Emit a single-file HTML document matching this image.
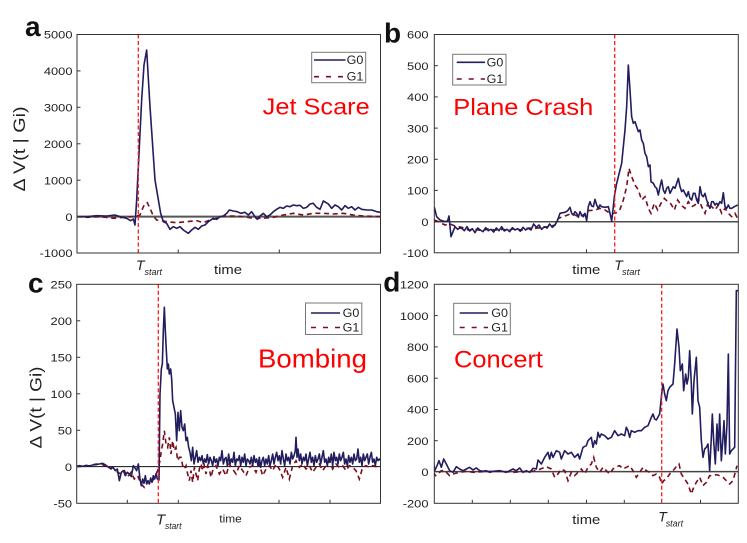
<!DOCTYPE html>
<html><head><meta charset="utf-8"><style>
html,body{margin:0;padding:0;background:#fff;}
svg{display:block;}
text{font-family:"Liberation Sans",Arial,sans-serif;}
.tk{font-size:11.5px;fill:#222;}
.g0{fill:none;stroke:#221d5e;stroke-width:4.8;stroke-linejoin:round;}
.g1{fill:none;stroke:#7a0c1c;stroke-width:4.8;stroke-dasharray:15,11;}
.ts{stroke:#ff1a1a;stroke-width:1.3;stroke-dasharray:4,2.5;}
.ax{fill:none;stroke:#333;stroke-width:1;}
.tt{fill:#f00;}
.lb{font-weight:bold;font-size:28px;fill:#111;}
</style></head><body>
<svg width="747" height="543" viewBox="0 0 747 543" xmlns="http://www.w3.org/2000/svg">
<defs>
<clipPath id="ca"><rect x="77" y="34.5" width="303.5" height="218.5"/></clipPath>
<clipPath id="cb"><rect x="434.3" y="34.5" width="304" height="218.3"/></clipPath>
<clipPath id="cc"><rect x="76.7" y="284.3" width="303.8" height="219"/></clipPath>
<clipPath id="cd"><rect x="434.3" y="284.3" width="304" height="219"/></clipPath>
</defs>
<rect width="747" height="543" fill="#fff"/>

<!-- ============ PANEL A ============ -->
<line x1="77" y1="216.6" x2="380.5" y2="216.6" stroke="#555" stroke-width="2"/>
<g clip-path="url(#ca)"><g transform="scale(0.33333)">
<polyline class="g1" points="230,650 260,652 300,650 340,655 370,652 395,650 410,648 420,645 428,625 435,610 442,608 450,625 460,648 470,660 485,662 500,665 530,668 560,665 590,662 610,668 630,660 650,655 670,648 700,648 730,650 760,655 790,655 820,652 850,645 880,640 910,645 940,640 970,640 1000,642 1030,640 1060,645 1090,648 1140,650"/>
<polyline class="g0" points="230,650 260,650 290,647 320,648 345,645 360,650 380,655 392,662 400,657 405,675 410,600 415,500 425,300 432,195 440,150 450,320 465,540 482,640 490,665 500,670 510,688 520,680 530,685 540,680 550,690 565,700 575,690 585,682 595,688 605,678 615,675 625,665 640,655 650,658 660,650 670,648 680,640 688,630 700,633 712,635 722,640 735,637 745,645 755,635 765,650 772,658 780,648 790,640 800,650 810,645 820,635 830,628 840,622 850,625 860,618 870,620 880,615 890,617 900,616 910,625 920,622 930,612 940,610 950,622 960,628 970,603 985,612 995,625 1005,615 1015,620 1025,630 1035,617 1045,625 1055,620 1065,630 1075,622 1085,628 1100,630 1115,630 1130,635 1140,637"/>
</g></g>
<line class="ts" x1="138.3" y1="34.5" x2="138.3" y2="253"/>
<rect class="ax" x="77" y="34.5" width="303.5" height="218.5"/>
<g stroke="#333" stroke-width="1">
<line x1="77" y1="70.9" x2="80.5" y2="70.9"/><line x1="77" y1="107.3" x2="80.5" y2="107.3"/><line x1="77" y1="143.8" x2="80.5" y2="143.8"/><line x1="77" y1="180.2" x2="80.5" y2="180.2"/><line x1="77" y1="216.6" x2="80.5" y2="216.6"/>
<line x1="178.2" y1="253" x2="178.2" y2="249.5"/><line x1="279.3" y1="253" x2="279.3" y2="249.5"/>
</g>
<g class="tk" text-anchor="end">
<text transform="translate(72.5,38.7) scale(1.12,1)">5000</text>
<text transform="translate(72.5,75.1) scale(1.12,1)">4000</text>
<text transform="translate(72.5,111.5) scale(1.12,1)">3000</text>
<text transform="translate(72.5,148) scale(1.12,1)">2000</text>
<text transform="translate(72.5,184.4) scale(1.12,1)">1000</text>
<text transform="translate(72.5,220.8) scale(1.12,1)">0</text>
<text transform="translate(72.5,257.2) scale(1.12,1)">-1000</text>
</g>
<text class="lb" x="25" y="36">a</text>
<text transform="translate(25,149) rotate(-90)" text-anchor="middle" font-size="17" fill="#222" textLength="85" lengthAdjust="spacingAndGlyphs">Δ V(t | Gi)</text>
<text class="tt" x="262.7" y="114.3" font-size="23" textLength="107" lengthAdjust="spacingAndGlyphs">Jet Scare</text>
<rect x="311.7" y="52.3" width="54" height="30.4" fill="#fff" stroke="#777" stroke-width="1"/>
<line x1="314" y1="60" x2="345.5" y2="60" stroke="#221d5e" stroke-width="1.6"/>
<line x1="314" y1="76.7" x2="345.5" y2="76.7" stroke="#7a0c1c" stroke-width="1.6" stroke-dasharray="5,7"/>
<text x="346.7" y="64" font-size="11.5" fill="#222" textLength="16.7" lengthAdjust="spacingAndGlyphs">G0</text>
<text x="346.7" y="80.7" font-size="11.5" fill="#222" textLength="16.7" lengthAdjust="spacingAndGlyphs">G1</text>
<text x="214" y="274" font-size="13" fill="#222" textLength="28" lengthAdjust="spacingAndGlyphs">time</text>
<text x="136" y="270" font-size="14" font-style="italic" fill="#222">T</text>
<text x="144.5" y="275" font-size="9" font-style="italic" fill="#222" textLength="17.5" lengthAdjust="spacingAndGlyphs">start</text>

<!-- ============ PANEL B ============ -->
<line x1="434.3" y1="221.8" x2="738.3" y2="221.8" stroke="#111" stroke-width="1.2"/>
<g clip-path="url(#cb)"><g transform="translate(375,0) scale(0.33333)">
<polyline class="g1" points="178,660 190,665 210,675 225,672 240,678 260,682 280,690 300,688 320,692 340,687 360,690 380,688 400,690 420,686 440,690 460,684 480,685 500,683 520,680 540,675 550,655 570,648 590,640 610,650 625,645 640,632 660,630 675,625 690,630 705,640 718,640 725,638 735,628 745,600 755,560 762,505 770,530 780,555 790,570 800,600 810,590 820,625 828,640 838,610 848,630 858,610 868,595 878,605 888,612 898,630 908,600 918,615 930,625 940,605 950,620 960,615 970,595 980,620 990,640 1000,605 1010,620 1020,630 1030,615 1040,640 1050,625 1060,640 1070,650 1080,640 1090,660"/>
<polyline class="g0" points="178,622 185,650 195,660 210,665 218,662 222,648 228,710 234,695 240,680 248,688 254,684 260,685 268,692 276,680 284,693 292,686 300,698 308,684 316,690 324,695 332,683 340,692 348,688 356,696 364,684 372,692 380,680 388,693 396,688 404,695 412,683 420,690 428,686 436,694 444,682 452,690 460,685 468,690 476,672 484,682 492,675 500,688 508,680 516,684 524,672 532,682 540,675 548,660 555,640 563,638 570,637 578,632 585,622 590,640 595,645 600,635 605,640 610,652 615,635 620,645 625,650 630,640 635,662 640,620 645,605 650,618 655,620 660,598 665,615 670,625 675,615 680,620 690,622 700,620 705,640 710,663 715,620 718,590 724,555 730,530 735,510 740,490 745,440 750,390 755,320 760,195 765,270 770,350 775,370 780,365 785,380 790,395 795,390 800,420 805,430 810,460 815,470 820,500 825,495 828,545 835,550 840,560 845,565 850,585 855,560 860,540 865,570 870,580 875,565 880,560 885,580 890,570 895,560 900,565 905,550 910,535 915,560 920,575 925,570 930,580 935,590 940,575 945,595 950,600 955,580 960,580 965,600 970,610 975,560 980,585 985,590 990,580 995,600 1000,615 1005,625 1010,605 1015,605 1020,615 1025,610 1030,615 1035,605 1040,610 1045,578 1050,620 1055,625 1060,615 1065,625 1070,625 1078,620 1088,615"/>
</g></g>
<line class="ts" x1="614.7" y1="34.5" x2="614.7" y2="252.8"/>
<rect class="ax" x="434.3" y="34.5" width="304" height="218.3"/>
<g stroke="#333" stroke-width="1">
<line x1="434.3" y1="65.7" x2="437.8" y2="65.7"/><line x1="434.3" y1="96.9" x2="437.8" y2="96.9"/><line x1="434.3" y1="128.1" x2="437.8" y2="128.1"/><line x1="434.3" y1="159.3" x2="437.8" y2="159.3"/><line x1="434.3" y1="190.4" x2="437.8" y2="190.4"/>
<line x1="510.3" y1="252.8" x2="510.3" y2="249.3"/><line x1="586.5" y1="252.8" x2="586.5" y2="249.3"/><line x1="662.3" y1="252.8" x2="662.3" y2="249.3"/>
</g>
<g class="tk" text-anchor="end">
<text transform="translate(428.5,38.7) scale(1.12,1)">600</text>
<text transform="translate(428.5,69.9) scale(1.12,1)">500</text>
<text transform="translate(428.5,101.1) scale(1.12,1)">400</text>
<text transform="translate(428.5,132.3) scale(1.12,1)">300</text>
<text transform="translate(428.5,163.5) scale(1.12,1)">200</text>
<text transform="translate(428.5,194.6) scale(1.12,1)">100</text>
<text transform="translate(428.5,225.8) scale(1.12,1)">0</text>
<text transform="translate(428.5,257) scale(1.12,1)">-100</text>
</g>
<text class="lb" x="384" y="42.5">b</text>
<text class="tt" x="453.3" y="115" font-size="23.5" textLength="140" lengthAdjust="spacingAndGlyphs">Plane Crash</text>
<rect x="452.7" y="54.3" width="53.3" height="30.7" fill="#fff" stroke="#777" stroke-width="1"/>
<line x1="456.7" y1="62.3" x2="485" y2="62.3" stroke="#221d5e" stroke-width="1.6"/>
<line x1="456.7" y1="79" x2="485" y2="79" stroke="#7a0c1c" stroke-width="1.6" stroke-dasharray="5,7"/>
<text x="486.7" y="66.3" font-size="11.5" fill="#222" textLength="16.7" lengthAdjust="spacingAndGlyphs">G0</text>
<text x="486.7" y="83" font-size="11.5" fill="#222" textLength="16.7" lengthAdjust="spacingAndGlyphs">G1</text>
<text x="572.3" y="274" font-size="13" fill="#222" textLength="28" lengthAdjust="spacingAndGlyphs">time</text>
<text x="614.3" y="270" font-size="14" font-style="italic" fill="#222">T</text>
<text x="622" y="275" font-size="9" font-style="italic" fill="#222" textLength="18" lengthAdjust="spacingAndGlyphs">start</text>

<!-- ============ PANEL C ============ -->
<line x1="76.7" y1="466.6" x2="380.5" y2="466.6" stroke="#111" stroke-width="1"/>
<g clip-path="url(#cc)"><g transform="translate(76,284) scale(0.33333)">
<polyline class="g1" points="0,547 20,548 40,545 60,540 80,542 95,550 105,548 115,555 125,565 135,570 145,560 155,578 165,565 175,585 185,575 195,600 205,610 215,595 225,600 235,580 245,560 252,530 256,500 260,480 265,440 270,480 275,490 280,460 285,510 290,470 295,500 300,490 305,530 310,520 315,520 320,545 325,555 330,545 335,570 340,590 345,560 350,595 355,550 360,570 365,590 370,555 375,540 380,560 385,545 390,570 395,545 400,555 405,580 410,560 420,545 430,570 440,555 450,575 460,540 470,555 480,570 490,545 500,560 510,575 520,550 530,545 540,565 550,540 560,575 570,555 580,545 590,560 600,540 610,555 620,580 630,550 640,585 650,545 660,530 670,550 680,540 690,555 700,545 710,565 720,550 730,540 740,560 750,545 760,530 770,555 780,540 790,550 800,545 810,560 820,545 830,550 840,560 850,585 860,550 870,545 880,550 890,545 900,548 918,550"/>
<polyline class="g0" points="0,547 10,545 20,547 30,544 40,546 50,543 60,542 70,540 80,538 90,544 98,550 105,555 110,548 118,560 124,555 130,590 136,565 142,560 148,575 154,565 160,570 166,578 172,545 177,552 182,560 187,540 192,585 196,605 200,585 204,598 208,575 212,600 216,590 220,600 224,582 228,595 232,575 236,585 240,570 244,585 249,588 252,330 256,255 259,240 262,140 265,70 268,140 271,200 274,255 277,240 280,270 284,255 287,285 290,350 294,370 298,390 302,470 306,385 310,440 314,380 318,430 322,440 326,420 330,470 334,460 338,490 342,505 346,530 350,490 354,540 358,520 362,500 366,535 370,520 374,530 378,515 382,540 386,525 390,535 394,512 398,540 402,520 406,530 410,545 414,518 418,535 422,525 426,545 430,520 434,530 438,500 442,540 446,525 450,520 454,545 458,510 462,540 466,525 470,535 474,505 478,545 482,525 486,530 490,515 494,545 498,520 502,535 506,510 510,545 514,525 518,530 522,540 526,520 530,545 534,515 538,535 542,525 546,545 550,520 554,550 558,530 562,520 566,545 570,525 574,540 578,515 582,545 586,530 590,510 594,540 598,520 602,505 606,530 610,515 614,540 618,500 622,525 626,545 630,510 634,530 638,520 642,540 646,505 650,525 654,515 658,500 660,460 663,520 666,495 670,530 674,510 678,540 682,520 686,530 690,510 694,545 698,525 702,505 706,535 710,520 714,545 718,515 722,535 726,525 730,510 734,540 738,520 742,500 746,535 750,525 754,545 758,520 762,535 766,510 770,545 774,505 778,530 782,520 786,540 790,510 794,530 798,520 802,505 806,540 810,525 814,545 818,515 822,535 826,520 830,540 834,510 838,530 842,525 846,495 850,535 854,520 858,545 862,510 866,530 870,520 874,510 878,540 882,520 886,505 890,535 894,525 898,545 902,520 906,530 910,525 918,535"/>
</g></g>
<line class="ts" x1="158.3" y1="284.3" x2="158.3" y2="503.3"/>
<rect class="ax" x="76.7" y="284.3" width="303.8" height="219"/>
<g stroke="#333" stroke-width="1">
<line x1="76.7" y1="320.8" x2="80.2" y2="320.8"/><line x1="76.7" y1="357.3" x2="80.2" y2="357.3"/><line x1="76.7" y1="393.8" x2="80.2" y2="393.8"/><line x1="76.7" y1="430.3" x2="80.2" y2="430.3"/><line x1="76.7" y1="466.8" x2="80.2" y2="466.8"/>
<line x1="127.3" y1="503.3" x2="127.3" y2="499.8"/><line x1="178.3" y1="503.3" x2="178.3" y2="499.8"/><line x1="279" y1="503.3" x2="279" y2="499.8"/><line x1="330" y1="503.3" x2="330" y2="499.8"/>
</g>
<g class="tk" text-anchor="end">
<text transform="translate(72,288.5) scale(1.12,1)">250</text>
<text transform="translate(72,325) scale(1.12,1)">200</text>
<text transform="translate(72,361.5) scale(1.12,1)">150</text>
<text transform="translate(72,398) scale(1.12,1)">100</text>
<text transform="translate(72,434.5) scale(1.12,1)">50</text>
<text transform="translate(72,471) scale(1.12,1)">0</text>
<text transform="translate(72,507.5) scale(1.12,1)">-50</text>
</g>
<text class="lb" x="28" y="292.7">c</text>
<text transform="translate(41.5,407.5) rotate(-90)" text-anchor="middle" font-size="17" fill="#222" textLength="82" lengthAdjust="spacingAndGlyphs">Δ V(t | Gi)</text>
<text class="tt" x="258" y="367.3" font-size="26" textLength="109" lengthAdjust="spacingAndGlyphs">Bombing</text>
<rect x="305.5" y="303" width="56.3" height="31.5" fill="#fff" stroke="#777" stroke-width="1"/>
<line x1="311" y1="313" x2="340" y2="313" stroke="#221d5e" stroke-width="1.6"/>
<line x1="311" y1="327.5" x2="340" y2="327.5" stroke="#7a0c1c" stroke-width="1.6" stroke-dasharray="5,7"/>
<text x="342.7" y="317" font-size="11.5" fill="#222" textLength="16.7" lengthAdjust="spacingAndGlyphs">G0</text>
<text x="342.7" y="331.7" font-size="11.5" fill="#222" textLength="16.7" lengthAdjust="spacingAndGlyphs">G1</text>
<text x="219.3" y="522.3" font-size="11" fill="#222" textLength="22.4" lengthAdjust="spacingAndGlyphs">time</text>
<text x="156" y="524.5" font-size="15" font-style="italic" fill="#222">T</text>
<text x="165" y="529" font-size="9.5" font-style="italic" fill="#222" textLength="16.5" lengthAdjust="spacingAndGlyphs">start</text>

<!-- ============ PANEL D ============ -->
<line x1="434.3" y1="471.6" x2="738.3" y2="471.6" stroke="#444" stroke-width="1.5"/>
<g clip-path="url(#cd)"><g transform="translate(433,284) scale(0.33333)">
<polyline class="g1" points="0,565 8,575 15,570 25,560 35,560 50,575 60,570 80,565 100,562 120,565 150,563 180,562 210,562 240,565 270,563 300,562 320,556 340,548 355,555 365,580 375,570 385,555 395,560 405,590 415,565 425,575 435,565 445,555 455,570 465,550 475,540 482,520 490,550 500,565 510,550 520,560 530,570 540,555 550,548 560,545 570,555 580,550 590,545 600,560 610,580 620,565 630,550 640,560 650,565 660,575 670,570 680,580 686,600 692,590 700,585 710,570 720,560 730,548 738,540 745,570 755,585 765,600 775,630 782,610 790,595 800,580 810,605 820,595 830,575 840,575 850,572 860,575 870,580 880,590 890,600 900,590 912,545"/>
<polyline class="g0" points="0,520 5,560 12,545 18,530 25,550 32,525 40,540 50,560 60,565 70,548 80,555 90,560 100,555 110,550 120,558 130,552 140,560 150,562 160,560 170,565 180,562 200,560 220,565 240,555 250,560 260,552 270,565 280,560 290,565 300,553 310,555 315,528 325,540 335,520 345,505 350,525 355,505 360,520 370,500 380,505 385,525 395,500 405,510 415,505 425,520 435,510 440,525 450,490 460,485 465,470 475,460 480,490 485,470 490,480 495,445 500,460 505,450 515,455 525,465 535,460 545,440 555,455 565,450 575,455 580,430 585,440 590,460 595,440 605,445 615,440 625,440 635,430 645,425 655,400 660,390 665,405 670,408 680,390 686,330 690,300 695,330 700,350 705,320 710,310 720,300 725,240 732,135 738,190 742,260 748,240 752,320 758,270 762,300 766,280 770,200 775,300 778,390 783,290 790,220 795,350 800,370 805,470 810,520 815,495 820,490 825,480 830,560 835,460 838,390 842,470 847,540 852,420 856,500 860,390 865,530 870,460 873,410 877,510 882,420 886,210 890,510 895,500 905,490 910,20 918,20"/>
</g></g>
<line class="ts" x1="661.7" y1="284.3" x2="661.7" y2="503.3"/>
<rect class="ax" x="434.3" y="284.3" width="304" height="219"/>
<g stroke="#333" stroke-width="1">
<line x1="434.3" y1="315.6" x2="437.8" y2="315.6"/><line x1="434.3" y1="346.9" x2="437.8" y2="346.9"/><line x1="434.3" y1="378.2" x2="437.8" y2="378.2"/><line x1="434.3" y1="409.5" x2="437.8" y2="409.5"/><line x1="434.3" y1="440.7" x2="437.8" y2="440.7"/>
<line x1="472.3" y1="503.3" x2="472.3" y2="499.8"/><line x1="510.3" y1="503.3" x2="510.3" y2="499.8"/><line x1="548.3" y1="503.3" x2="548.3" y2="499.8"/><line x1="586.5" y1="503.3" x2="586.5" y2="499.8"/><line x1="624.3" y1="503.3" x2="624.3" y2="499.8"/><line x1="700.5" y1="503.3" x2="700.5" y2="499.8"/>
</g>
<g class="tk" text-anchor="end">
<text transform="translate(428.5,288.5) scale(1.12,1)">1200</text>
<text transform="translate(428.5,319.8) scale(1.12,1)">1000</text>
<text transform="translate(428.5,351.1) scale(1.12,1)">800</text>
<text transform="translate(428.5,382.4) scale(1.12,1)">600</text>
<text transform="translate(428.5,413.7) scale(1.12,1)">400</text>
<text transform="translate(428.5,444.9) scale(1.12,1)">200</text>
<text transform="translate(428.5,476.2) scale(1.12,1)">0</text>
<text transform="translate(428.5,507.5) scale(1.12,1)">-200</text>
</g>
<text class="lb" x="383.3" y="291.7">d</text>
<text class="tt" x="454" y="367.3" font-size="24.5" textLength="89" lengthAdjust="spacingAndGlyphs">Concert</text>
<rect x="453.7" y="303.3" width="56.6" height="31.4" fill="#fff" stroke="#777" stroke-width="1"/>
<line x1="459.7" y1="313" x2="488" y2="313" stroke="#221d5e" stroke-width="1.6"/>
<line x1="459.7" y1="327.5" x2="488" y2="327.5" stroke="#7a0c1c" stroke-width="1.6" stroke-dasharray="5,7"/>
<text x="491.3" y="317" font-size="11.5" fill="#222" textLength="16.7" lengthAdjust="spacingAndGlyphs">G0</text>
<text x="491.3" y="331.7" font-size="11.5" fill="#222" textLength="16.7" lengthAdjust="spacingAndGlyphs">G1</text>
<text x="572.3" y="524" font-size="13" fill="#222" textLength="28" lengthAdjust="spacingAndGlyphs">time</text>
<text x="658.3" y="521.5" font-size="14" font-style="italic" fill="#222">T</text>
<text x="665.7" y="526.5" font-size="9" font-style="italic" fill="#222" textLength="17.5" lengthAdjust="spacingAndGlyphs">start</text>
</svg>
</body></html>
